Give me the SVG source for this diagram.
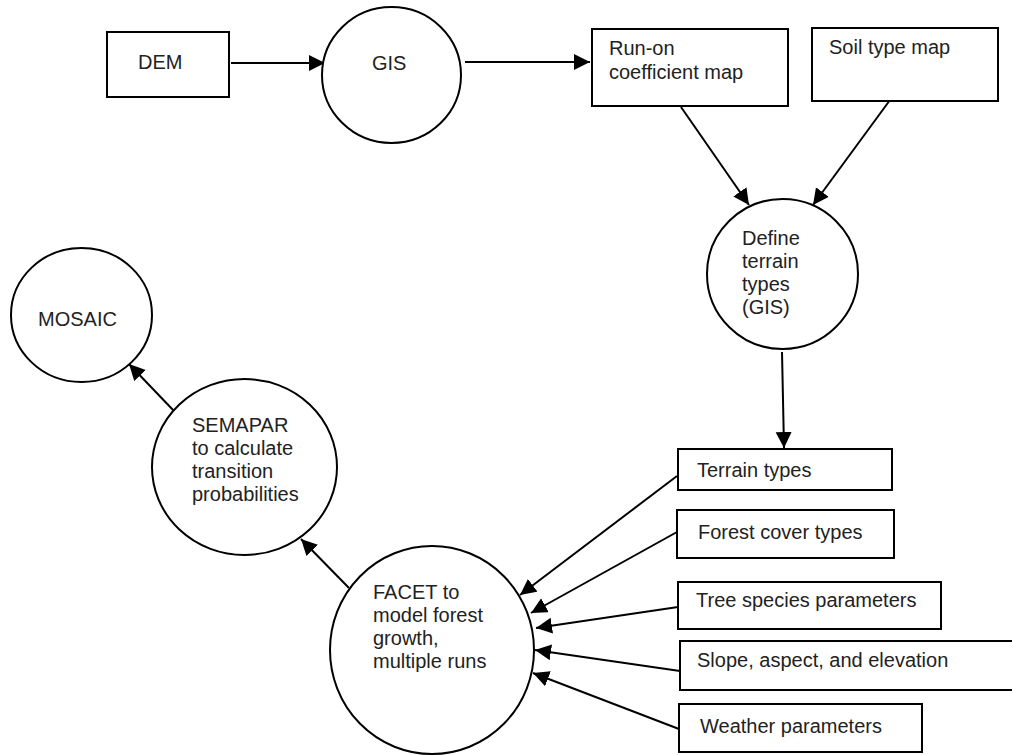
<svg xmlns="http://www.w3.org/2000/svg" width="1012" height="755" viewBox="0 0 1012 755">
<style>
.n{fill:#fff;stroke:#000;stroke-width:2}
.t{font-family:"Liberation Sans",Arial,sans-serif;font-size:20px;fill:#222}
.c{stroke:#000;stroke-width:2;fill:none;marker-end:url(#ah)}
</style>
<defs>
<marker id="ah" markerUnits="userSpaceOnUse" markerWidth="17" markerHeight="17" refX="16" refY="8" orient="auto">
<path d="M0,0 L16,8 L0,16 z" fill="#000"/>
</marker>
</defs>
<rect width="1012" height="755" fill="#fff"/>
<g id="connectors">
<line class="c" x1="231" y1="63" x2="325" y2="63"/>
<line class="c" x1="465" y1="62" x2="590" y2="62"/>
<line class="c" x1="681" y1="107" x2="749" y2="205"/>
<line class="c" x1="890" y1="100" x2="813" y2="205"/>
<line class="c" x1="782" y1="352" x2="784" y2="448"/>
<line class="c" x1="677" y1="476" x2="520" y2="595"/>
<line class="c" x1="677" y1="532" x2="531" y2="613"/>
<line class="c" x1="678" y1="607" x2="536" y2="628"/>
<line class="c" x1="680" y1="671" x2="535" y2="650"/>
<line class="c" x1="679" y1="729" x2="533" y2="673"/>
<line class="c" x1="349" y1="588" x2="301" y2="539"/>
<line class="c" x1="174" y1="411" x2="129" y2="364"/>
</g>
<g id="dem"><rect class="n" x="107" y="32" width="122" height="65"/><text class="t" x="138" y="69">DEM</text></g>
<g id="gis"><ellipse class="n" cx="391.5" cy="75" rx="69.5" ry="68"/><text class="t" x="372" y="70">GIS</text></g>
<g id="runon"><rect class="n" x="592" y="29" width="196" height="77"/><text class="t" x="609" y="55">Run-on</text><text class="t" x="609" y="79">coefficient map</text></g>
<g id="soil"><rect class="n" x="812" y="28" width="186" height="73"/><text class="t" x="829" y="54">Soil type map</text></g>
<g id="define"><ellipse class="n" cx="782.5" cy="274" rx="75.5" ry="75"/><text class="t" x="742" y="245">Define</text><text class="t" x="742" y="268">terrain</text><text class="t" x="742" y="291">types</text><text class="t" x="742" y="314">(GIS)</text></g>
<g id="terrain"><rect class="n" x="678" y="449" width="214" height="41"/><text class="t" x="697" y="477">Terrain types</text></g>
<g id="forest"><rect class="n" x="677" y="510" width="217" height="48"/><text class="t" x="698" y="539">Forest cover types</text></g>
<g id="tree"><rect class="n" x="678" y="582" width="263" height="47"/><text class="t" x="696" y="607">Tree species parameters</text></g>
<g id="slope"><rect class="n" x="680" y="641" width="340" height="49"/><text class="t" x="697" y="667">Slope, aspect, and elevation</text></g>
<g id="weather"><rect class="n" x="679" y="704" width="243" height="48"/><text class="t" x="700" y="733">Weather parameters</text></g>
<g id="facet"><ellipse class="n" cx="432" cy="650" rx="102" ry="104"/><text class="t" x="373" y="599">FACET to</text><text class="t" x="373" y="622">model forest</text><text class="t" x="373" y="645">growth,</text><text class="t" x="373" y="668">multiple runs</text></g>
<g id="semapar"><ellipse class="n" cx="244.5" cy="467" rx="92.5" ry="88"/><text class="t" x="192" y="432">SEMAPAR</text><text class="t" x="192" y="455">to calculate</text><text class="t" x="192" y="478">transition</text><text class="t" x="192" y="501">probabilities</text></g>
<g id="mosaic"><ellipse class="n" cx="81.5" cy="315" rx="70.5" ry="67"/><text class="t" x="38" y="326">MOSAIC</text></g>
</svg>
